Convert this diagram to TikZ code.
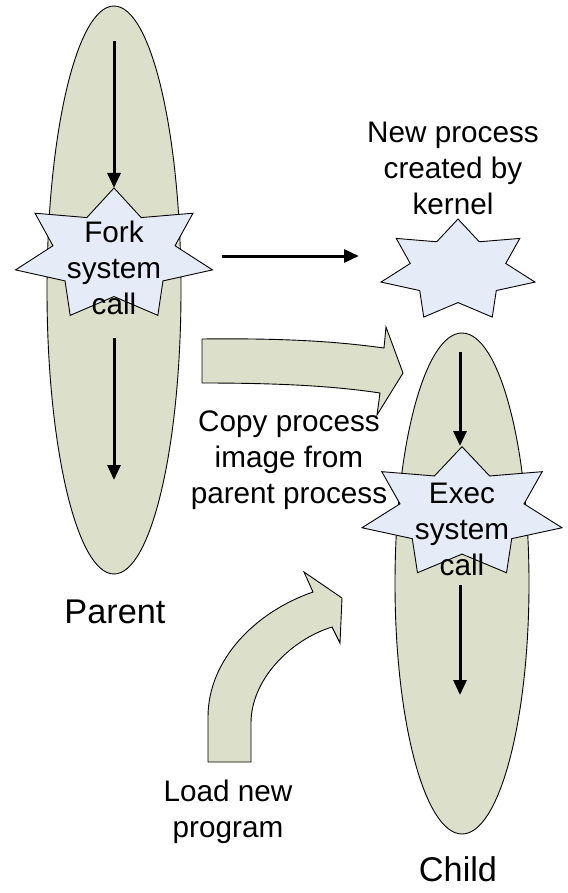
\documentclass[tikz,border=0pt]{standalone}
\usepackage{fontspec}
\setmainfont{Liberation Sans}
\usetikzlibrary{shapes.geometric,arrows.meta}
\definecolor{olivefill}{RGB}{220,224,202}
\definecolor{starfill}{RGB}{230,236,247}
\tikzset{
  proc/.style={ellipse,draw=black,line width=0.9pt,fill=olivefill,inner sep=0pt},
  blockarrow/.style={draw=black,line width=0.9pt,fill=olivefill,line join=miter},
  starsty/.style={draw=black,line width=0.9pt,fill=starfill,line join=miter},
  flow/.style={line width=3pt,-{Triangle[length=15pt,width=13pt]}},
  lbl/.style={font=\fontsize{29.7}{36}\selectfont,align=center,inner sep=0pt},
  biglbl/.style={font=\fontsize{34.3}{40}\selectfont,inner sep=0pt}
}
\newcommand\sevenstar[4]{%
  \begin{scope}[shift={(#1,#2)}]
    \draw[starsty] (-90:#3 and #4)
      \foreach \i [evaluate=\i as \r using {mod(\i,2)==0 ? 1 : 0.62}] in {1,...,13}
        { -- ({-90+\i*360/14}:{\r*#3} and {\r*#4}) } -- cycle;
  \end{scope}}
\begin{document}
\begin{tikzpicture}[x=1pt,y=-1pt]
\useasboundingbox (0,0) rectangle (567,893);
% processes
\node[proc,minimum width=134pt,minimum height=568pt] (parent) at (114,290) {};
\node[proc,minimum width=134pt,minimum height=501pt] (child) at (462,583.5) {};
% block arrows
\draw[blockarrow] (202,339) .. controls (290,338) and (340,342) .. (384,348)
  -- (386,327) -- (403,373) -- (377,415) -- (380,393)
  .. controls (340,387) and (290,383) .. (202,383) -- cycle;
\draw[blockarrow] (208,762) -- (208,717) .. controls (208,660) and (255,612) .. (313,592)
  -- (304,572) -- (342,598) -- (340,643) -- (332,627)
  .. controls (290,640) and (251,680) .. (251,723) -- (251,762) -- cycle;
% stars
\sevenstar{114}{255}{101}{67}
\sevenstar{458}{270.6}{79}{51.6}
\sevenstar{462}{513}{102.6}{66.3}
\coordinate (forktop) at (114,188);
\coordinate (newtop) at (458,219);
\coordinate (exectop) at (462,447);
% flow arrows
\coordinate (p1) at (114,41);
\coordinate (p2) at (114,338);
\coordinate (p3) at (114,480);
\coordinate (h1) at (222,256);
\coordinate (h2) at (359,256);
\coordinate (c1) at (460,352);
\coordinate (c2) at (460,446);
\coordinate (c3) at (460,585);
\coordinate (c4) at (460,695);
\draw[flow] (p1) -- (forktop);
\draw[flow] (p2) -- (p3);
\draw[flow] (h1) -- (h2);
\draw[flow] (c1) -- (c2);
\draw[flow] (c3) -- (c4);
% texts
\node[lbl] (fork) at (114,268) {Fork\\system\\call};
\node[lbl] (newproc) at (453,168) {New process\\created by\\kernel};
\node[lbl] (copy) at (289,460) {Copy process\\image from\\parent process};
\node[lbl] (exec) at (462,529) {Exec\\system\\call};
\node[lbl] (load) at (228,812) {Load new\\program};
\node[biglbl] (parentlbl) at (115,612) {Parent};
\node[biglbl] (childlbl) at (458,869) {Child};
\end{tikzpicture}
\end{document}
